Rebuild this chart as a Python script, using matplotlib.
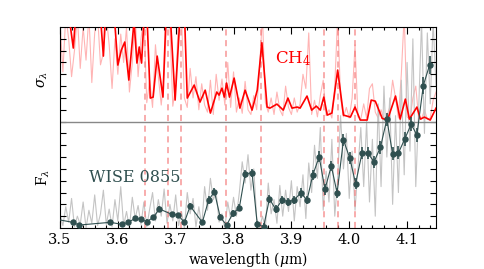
"""
plot.py

WISE 0855 spectrum (bottom) against the CH4 cross-section (top), both on
one axis split by a grey line at y = 9. Dashed lines mark CH4 features.
"""

import numpy as np
import matplotlib
matplotlib.use("Agg")
import matplotlib.pyplot as plt

plt.rcParams["font.family"] = ["DejaVu Serif"]
plt.rcParams["mathtext.fontset"] = "dejavuserif"

SPLIT_Y = 9.0
DARK = "#2f4f4f"

# CH4 lines marked with dashed verticals (um)
CH4_LINES = [3.647, 3.687, 3.709, 3.787, 3.847, 3.956, 3.980, 4.010]

# smoothed CH4 cross-section (upper panel, arbitrary units)
XS_WAVE = [3.500, 3.514, 3.523, 3.528, 3.569, 3.575, 3.579, 3.593, 3.600, 3.606,
           3.612, 3.619, 3.628, 3.633, 3.637, 3.641, 3.646, 3.650, 3.656, 3.661,
           3.668, 3.678, 3.683, 3.690, 3.699, 3.708, 3.715, 3.720, 3.732, 3.742,
           3.751, 3.760, 3.771, 3.775, 3.780, 3.784, 3.788, 3.793, 3.801, 3.811,
           3.820, 3.832, 3.841, 3.849, 3.858, 3.863, 3.875, 3.886, 3.894, 3.901,
           3.910, 3.915, 3.927, 3.935, 3.943, 3.950, 3.956, 3.962, 3.970, 3.980,
           3.990, 4.002, 4.010, 4.019, 4.031, 4.038, 4.045, 4.057, 4.066, 4.080,
           4.088, 4.097, 4.104, 4.117, 4.123, 4.130, 4.140, 4.150]
XS_SMOOTH = [18.5, 18.5, 15.22, 18.5, 18.5, 14.54, 18.5, 18.5, 13.78, 15.05,
             15.73, 12.51, 17.5, 13.95, 15.31, 13.95, 18.4, 18.4, 10.99, 11.07,
             14.54, 11.07, 17.6, 18.5, 10.82, 18.4, 18.4, 10.99, 12.09, 10.65,
             11.66, 9.72, 11.50, 11.24, 11.83, 11.07, 12.26, 11.07, 12.68, 10.14,
             11.66, 9.97, 11.66, 15.67, 10.23, 10.14, 10.48, 9.97, 10.99, 10.14,
             10.23, 10.14, 11.16, 9.97, 10.31, 9.97, 11.07, 9.55, 9.72, 13.36,
             9.55, 9.38, 10.23, 9.13, 9.13, 10.82, 10.73, 9.27, 9.13, 11.16,
             9.21, 10.90, 9.21, 10.23, 9.21, 9.38, 9.13, 10.14]

# full-resolution cross-section and spectrum, sampled every 0.005 um
XS_RAW = [17.5, 13.2, 18.0, 16.0, 12.8, 15.0, 18.0, 13.5, 17.0, 14.2,
          18.0, 12.3, 16.5, 18.0, 13.8, 14.8, 18.0, 15.5, 11.8, 16.0,
          13.0, 16.4, 14.0, 17.0, 11.5, 14.0, 18.0, 12.8, 16.0, 18.0,
          10.6, 12.5, 10.2, 15.5, 12.8, 10.4, 13.0, 18.0, 17.0, 10.3,
          12.0, 18.0, 18.0, 11.0, 10.2, 13.5, 11.0, 12.8, 10.0, 12.2,
          10.4, 9.8, 12.5, 9.6, 13.0, 10.8, 12.6, 10.4, 14.0, 10.2,
          13.2, 9.8, 11.0, 9.7, 12.4, 10.0, 9.6, 11.2, 10.0, 13.5,
          18.0, 10.6, 9.8, 11.0, 9.6, 11.5, 10.0, 9.5, 12.0, 10.2,
          9.6, 11.0, 9.8, 10.5, 13.0, 11.8, 16.5, 9.6, 10.8, 9.4,
          11.2, 12.5, 9.5, 10.0, 9.3, 12.0, 18.0, 11.0, 9.4, 10.2,
          9.3, 11.0, 15.5, 9.4, 9.2, 10.5, 9.3, 11.8, 12.2, 9.8,
          9.3, 10.0, 9.2, 9.5, 10.2, 12.5, 11.0, 9.3, 13.0, 18.0,
          9.4, 9.2, 11.0, 12.0, 9.3, 9.2, 10.0, 9.2, 9.3, 10.8,
          11.5]
FLUX_RAW = [1.2, 0.2, 1.8, 0.5, 2.5, 0.1, 1.0, 0.3, 2.2, 0.0,
            1.5, 0.4, 2.8, 0.2, 1.2, 3.2, 0.3, 1.6, 0.1, 2.4,
            0.6, 3.5, 0.2, 1.4, 0.0, 2.6, 0.8, 1.9, 0.3, 2.2,
            0.1, 1.6, 3.0, 0.6, 2.4, 1.0, 3.3, 0.4, 2.0, 0.6,
            2.8, 0.2, 1.4, 0.0, 3.0, 1.2, 2.5, 0.1, 1.8, 0.2,
            3.5, 1.5, 4.2, 2.4, 3.0, 0.5, 1.2, 0.0, 2.2, 0.8,
            2.6, 1.0, 3.0, 5.6, 3.8, 6.2, 3.2, 5.0, 0.8, 0.0,
            1.0, 0.0, 3.8, 1.2, 2.4, 0.4, 3.6, 1.0, 3.2, 1.4,
            4.0, 0.6, 3.5, 1.8, 4.5, 0.8, 5.5, 3.0, 7.0, 4.2,
            8.5, 1.5, 4.8, 2.2, 7.5, 1.0, 4.2, 9.5, 5.0, 8.0,
            2.5, 6.5, 1.5, 5.0, 8.5, 3.5, 9.0, 2.2, 7.5, 1.0,
            10.5, 3.5, 12.0, 6.0, 11.0, 2.0, 9.5, 3.0, 12.5, 4.5,
            14.0, 6.5, 16.0, 3.5, 10.0, 17.5, 8.0, 16.5, 10.5, 17.5,
            12.0]

# binned WISE 0855 spectrum (lower panel)
BIN_WAVE = [3.490, 3.522, 3.533, 3.587, 3.607, 3.618, 3.630, 3.640, 3.650, 3.661,
            3.672, 3.693, 3.704, 3.715, 3.725, 3.746, 3.757, 3.767, 3.777, 3.788,
            3.799, 3.810, 3.820, 3.832, 3.841, 3.852, 3.862, 3.873, 3.884, 3.895,
            3.905, 3.916, 3.927, 3.937, 3.948, 3.958, 3.969, 3.979, 3.990, 4.001,
            4.011, 4.022, 4.032, 4.043, 4.054, 4.065, 4.075, 4.085, 4.096, 4.107,
            4.117, 4.128, 4.139]
BIN_FLUX = [0.77, 0.48, 0.25, 0.48, 0.31, 0.48, 0.82, 0.74, 0.53, 0.90,
            1.61, 1.16, 1.10, 0.48, 1.86, 0.48, 2.37, 3.07, 0.90, 0.25,
            1.24, 1.71, 4.57, 4.68, 0.31, 0.11, 2.45, 1.58, 2.37, 2.23,
            2.37, 2.98, 2.37, 4.48, 6.03, 3.27, 5.25, 2.96, 7.45, 5.90,
            3.76, 6.32, 6.32, 5.61, 6.84, 9.20, 6.26, 6.35, 7.53, 8.77,
            7.87, 12.05, 13.80]
BIN_ERR = [0.15, 0.15, 0.15, 0.15, 0.15, 0.15, 0.2, 0.2, 0.2, 0.2,
           0.25, 0.2, 0.2, 0.2, 0.25, 0.2, 0.3, 0.3, 0.25, 0.2,
           0.3, 0.3, 0.35, 0.35, 0.3, 0.3, 0.35, 0.35, 0.35, 0.35,
           0.35, 0.4, 0.35, 0.4, 0.45, 0.45, 0.45, 0.45, 0.5, 0.5,
           0.5, 0.5, 0.5, 0.5, 0.55, 0.55, 0.55, 0.55, 0.6, 0.6,
           0.6, 0.7, 0.75]


def main():
    raw_wave = np.linspace(3.50, 4.15, len(XS_RAW))

    fig = plt.figure(figsize=(4.85, 2.69), dpi=100)
    ax = fig.add_axes([0.1237, 0.1524, 0.7753, 0.7472])

    ax.plot(raw_wave, XS_RAW, color="#ffb4b4", lw=0.8, zorder=1)
    ax.plot(raw_wave, FLUX_RAW, color="#c4c4c4", lw=0.8, zorder=1)

    for w in CH4_LINES:
        ax.axvline(w, color="#f47c7c", lw=1.1, alpha=0.8,
                   dashes=(4, 3), zorder=2)

    ax.axhline(SPLIT_Y, color="#888888", lw=1.0, zorder=2.5)
    ax.plot(XS_WAVE, XS_SMOOTH, color="red", lw=1.2, zorder=3)

    ax.errorbar(BIN_WAVE, BIN_FLUX, yerr=BIN_ERR, color=DARK, lw=0.8,
                elinewidth=1.2, capsize=0, marker="o", ms=3.6, zorder=4)

    ax.text(3.871, 13.97, r"CH$_4$", color="red", fontsize=12)
    ax.text(3.551, 3.92, "WISE 0855", color=DARK, fontsize=11.5)
    ax.text(-0.045, 0.74, r"$\sigma_\lambda$", transform=ax.transAxes,
            rotation=90, ha="center", va="center", fontsize=10)
    ax.text(-0.045, 0.25, r"F$_\lambda$", transform=ax.transAxes,
            rotation=90, ha="center", va="center", fontsize=10)

    ax.set_xlim(3.5, 4.15)
    ax.set_ylim(0, 17)
    ax.set_xticks([3.5, 3.6, 3.7, 3.8, 3.9, 4.0, 4.1])
    ax.set_xticks(np.arange(3.5, 4.151, 0.02), minor=True)
    ax.set_yticks(range(1, 17))
    ax.set_yticklabels([])
    ax.tick_params(which="both", direction="in", top=True, right=True,
                   labelsize=10.5, width=0.8)
    ax.tick_params(axis="x", which="major", length=5)
    ax.tick_params(axis="x", which="minor", length=2.5)
    ax.tick_params(axis="y", which="major", length=4)
    ax.set_xlabel(r"wavelength ($\mu$m)", fontsize=10, labelpad=2)

    fig.savefig("out.png", dpi=100)
    plt.close(fig)


if __name__ == "__main__":
    main()
